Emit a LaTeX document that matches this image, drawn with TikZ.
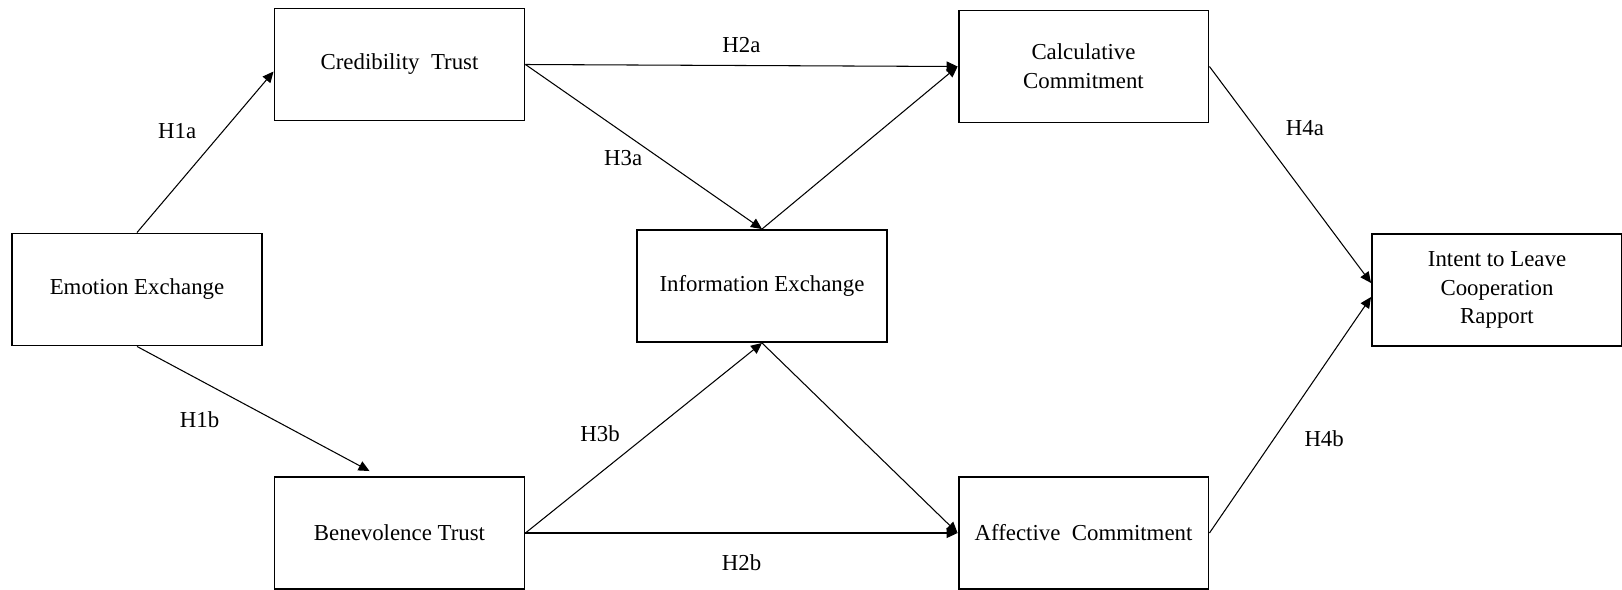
\documentclass[tikz,border=0pt]{standalone}
\usepackage{fontspec}
\setmainfont{Liberation Serif}
\usetikzlibrary{arrows.meta,positioning}

\begin{document}
\begin{tikzpicture}[x=0.02cm, y=-0.02cm,
    construct/.style={rectangle, draw=black, line width=1.1pt, minimum width=5cm, minimum height=2.24cm,
                      align=center, font=\fontsize{13}{16.3}\selectfont},
    effect/.style={-{Triangle[length=0.22cm,width=0.2cm]}, line width=0.6pt},
    hyp/.style={font=\fontsize{13}{16}\selectfont, inner sep=0pt}
]
\useasboundingbox (0,0) rectangle (1622,589);

% Constructs
\node[construct] (emotion) at (137,289.5) {Emotion Exchange};
\node[construct] (cred) at (399.5,64.5) {Credibility~ Trust};
\node[construct] (bene) at (399.5,533) {Benevolence Trust};
\node[construct] (info) at (762,286) {Information Exchange};
\node[construct] (calc) at (1083.5,66.5) {Calculative\\Commitment};
\node[construct] (affect) at (1083.5,533) {Affective~ Commitment};
\node[construct] (intent) at (1497,290) {Intent to Leave\\Cooperation\\Rapport};

% Hypotheses
\draw[effect] (emotion.north) -- ([yshift=-0.14cm]cred.west) node[hyp, pos=0.63, left=15pt] {H1a};
\draw[effect] (emotion.south) -- ([xshift=1.92cm,yshift=0.1cm]bene.north west) node[hyp, pos=0.59, left=31pt] {H1b};
\draw[effect] (cred.east) -- (calc.west) node[hyp, midway, above=7pt] {H2a};
\draw[effect] (bene.east) -- (affect.west) node[hyp, midway, below=12pt] {H2b};
\draw[effect] (cred.east) -- (info.north) node[hyp, pos=0.57, left=10pt] {H3a};
\draw[effect] (bene.east) -- (info.south) node[hyp, pos=0.52, left=16pt] {H3b};
\draw[effect] (info.north) -- (calc.west);
\draw[effect] (info.south) -- (affect.west);
\draw[effect] (calc.east) -- ([yshift=0.14cm]intent.west) node[hyp, pos=0.285, right=17pt] {H4a};
\draw[effect] (affect.east) -- ([yshift=-0.14cm]intent.west) node[hyp, pos=0.4, right=17pt] {H4b};
\end{tikzpicture}
\end{document}
